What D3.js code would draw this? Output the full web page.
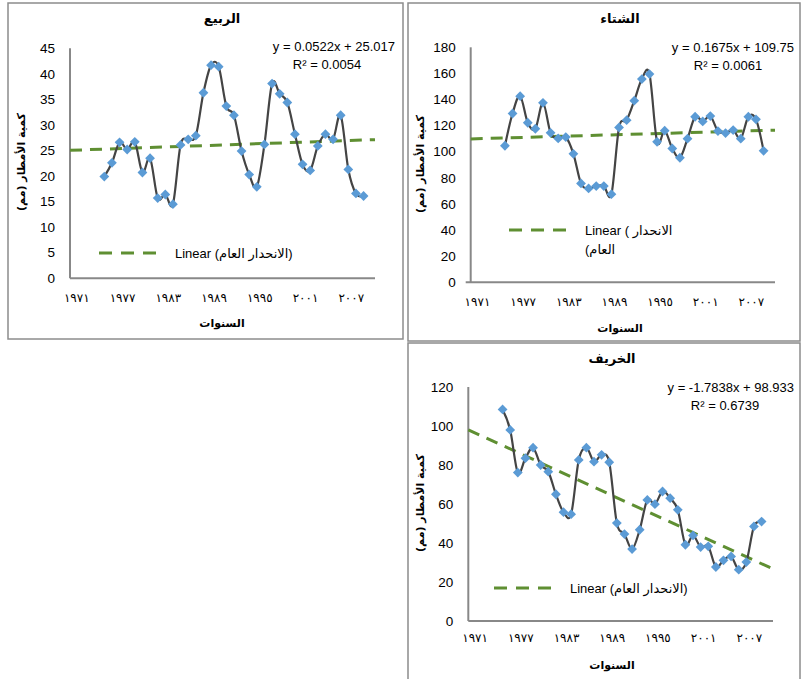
<!DOCTYPE html>
<html>
<head>
<meta charset="utf-8">
<script src="https://cdn.jsdelivr.net/npm/d3@7"></script>
<style>
  body { margin: 0; background: #fff; }
  svg { display: block; }
  .tick-num { font-family: "Liberation Sans", Arial, sans-serif; font-size: 13.5px; fill: #000; }
  .tick-year { font-family: "DejaVu Sans", sans-serif; font-size: 12px; fill: #000; letter-spacing: 2.5px; }
  .title { font-family: "DejaVu Sans", sans-serif; font-size: 13px; font-weight: bold; fill: #000; }
  .axis-label { font-family: "DejaVu Sans", sans-serif; font-size: 11px; font-weight: bold; fill: #000; }
  .eq { font-family: "Liberation Sans", Arial, sans-serif; font-size: 13px; fill: #000; }
  .legend { font-family: "Liberation Sans", "DejaVu Sans", sans-serif; font-size: 13px; fill: #000; }
</style>
</head>
<body>
<svg id="chart" width="801" height="679"></svg>
<script>
// categories
const years = [1975, 1976, 1977, 1978, 1979, 1980, 1981, 1982, 1983, 1984,
               1985, 1986, 1987, 1988, 1989, 1990, 1991, 1992, 1993, 1994,
               1995, 1996, 1997, 1998, 1999, 2000, 2001, 2002, 2003, 2004,
               2005, 2006, 2007, 2008, 2009];
const tickYears = [1971, 1977, 1983, 1989, 1995, 2001, 2007];
const tickYearLabels = ['١٩٧١', '١٩٧٧', '١٩٨٣', '١٩٨٩', '١٩٩٥', '٢٠٠١', '٢٠٠٧'];

// series (mm)
const springVals = [19.9, 22.6, 26.6, 25.2, 26.7, 20.7, 23.5, 15.7, 16.4, 14.5,
                    26.1, 27.2, 27.9, 36.3, 41.7, 41.4, 33.7, 31.9, 24.9, 20.3,
                    17.9, 26.2, 38.1, 36.1, 34.4, 28.2, 22.3, 21.1, 25.9, 28.2,
                    27.2, 31.9, 21.3, 16.6, 16.1];
const winterVals = [104.6, 129.3, 142.6, 122.2, 117.6, 137.5, 114.5, 110.2, 111.2, 98.4,
                    75.7, 71.9, 73.7, 73.7, 67.5, 118.6, 124.2, 139.1, 155.7, 159.5,
                    107.6, 116.1, 102.5, 95.4, 110, 126.8, 123.2, 127.3, 115.8, 114.3,
                    116.6, 110, 126.8, 124.8, 100.7];
const autumnVals = [108.5, 98, 76.1, 83.5, 88.9, 80, 76.6, 65, 55.8, 54.8,
                    82.6, 88.9, 81.7, 85.2, 81.4, 50.2, 44.6, 36.9, 46.8, 62.1,
                    59.9, 66.4, 63, 57, 39.1, 43.9, 37.9, 38.3, 27.7, 31.1,
                    33.1, 26.3, 30.2, 48.5, 51];

// trend lines [slope, intercept], x = year - 1970 (excel category index)
const springTrend = [0.0522, 25.017];
const winterTrend = [0.1675, 109.75];
const autumnTrend = [-1.7838, 98.933];

const springTicks = [0, 5, 10, 15, 20, 25, 30, 35, 40, 45];
const winterTicks = [0, 20, 40, 60, 80, 100, 120, 140, 160, 180];
const autumnTicks = [0, 20, 40, 60, 80, 100, 120];

const svg = d3.select('#chart');

function drawPanel(p) {
    const g = svg.append('g');

    // frame
    g.append('rect')
        .attr('x', p.box[0]).attr('y', p.box[1])
        .attr('width', p.box[2]).attr('height', p.box[3])
        .attr('fill', 'none')
        .attr('stroke', '#8c8c8c')
        .attr('stroke-width', 1.5);

    const x = d3.scaleLinear().domain([1970.5, 2010.5]).range([p.x0, p.x1]);
    const y = d3.scaleLinear().domain([0, p.ticks[p.ticks.length - 1]]).range([p.y0, p.y1]);

    // axes lines
    g.append('line')
        .attr('x1', p.x0).attr('x2', p.x0)
        .attr('y1', y.range()[0]).attr('y2', y.range()[1])
        .attr('stroke', '#888').attr('stroke-width', 2);
    g.append('line')
        .attr('x1', p.x0 - (p.tick0 || 0)).attr('x2', p.x1)
        .attr('y1', p.y0).attr('y2', p.y0)
        .attr('stroke', '#888').attr('stroke-width', 2);

    // y tick labels
    g.selectAll('.ty')
        .data(p.ticks)
        .enter()
        .append('text')
        .attr('class', 'tick-num')
        .attr('x', p.x0 - 15)
        .attr('y', d => y(d))
        .attr('dy', '0.35em')
        .attr('text-anchor', 'end')
        .text(d => d);

    // x tick labels
    g.selectAll('.tx')
        .data(tickYears)
        .enter()
        .append('text')
        .attr('class', 'tick-year')
        .attr('x', d => x(d) + 3)
        .attr('y', p.y0 + p.xlabOff)
        .attr('dy', '0.35em')
        .attr('text-anchor', 'middle')
        .attr('direction', 'ltr')
        .text((d, i) => tickYearLabels[i]);

    // trend line
    const tr = p.trend;
    g.append('line')
        .attr('x1', p.x0).attr('x2', p.x1)
        .attr('y1', y(tr[0] * (1970.5 - 1970) + tr[1]))
        .attr('y2', y(tr[0] * (2010.5 - 1970) + tr[1]))
        .attr('stroke', '#5f8f32')
        .attr('stroke-width', 3)
        .attr('stroke-dasharray', '12,8');

    // series line (smoothed like excel)
    const line = d3.line()
        .x((d, i) => x(years[i]))
        .y(d => y(d))
        .curve(d3.curveCardinal.tension(0));
    g.append('path')
        .datum(p.values)
        .attr('d', line)
        .attr('fill', 'none')
        .attr('stroke', '#444')
        .attr('stroke-width', 2.2);

    // markers
    const sym = d3.symbol().type(d3.symbolSquare).size(48);
    g.selectAll('.mk')
        .data(p.values)
        .enter()
        .append('path')
        .attr('d', sym)
        .attr('transform', (d, i) => `translate(${x(years[i])},${y(d)}) rotate(45)`)
        .attr('fill', '#5b9bd5');

    // title
    g.append('text')
        .attr('class', 'title')
        .attr('x', p.titleX).attr('y', p.titleY)
        .attr('dy', '0.35em')
        .attr('text-anchor', 'middle')
        .text(p.title);

    // axis titles
    g.append('text')
        .attr('class', 'axis-label')
        .attr('transform', `translate(${p.ylabX},${p.ylabY}) rotate(-90)`)
        .attr('dy', '0.35em')
        .attr('text-anchor', 'middle')
        .text('كمية الأمطار (مم)');
    g.append('text')
        .attr('class', 'axis-label')
        .attr('x', p.titleX).attr('y', p.xtitleY)
        .attr('dy', '0.35em')
        .attr('text-anchor', 'middle')
        .text('السنوات');

    // equation
    g.append('text')
        .attr('class', 'eq')
        .attr('x', p.eqX).attr('y', p.eqY)
        .attr('dy', '0.35em')
        .attr('text-anchor', 'end')
        .text(p.eq);
    g.append('text')
        .attr('class', 'eq')
        .attr('x', p.r2X).attr('y', p.eqY + 18.5)
        .attr('dy', '0.35em')
        .attr('text-anchor', 'middle')
        .text(p.r2);

    // legend
    g.append('line')
        .attr('x1', p.legX).attr('x2', p.legX + 57)
        .attr('y1', p.legY).attr('y2', p.legY)
        .attr('stroke', '#5f8f32')
        .attr('stroke-width', 3)
        .attr('stroke-dasharray', '13,9');
    p.legText.forEach((t, i) => {
        g.append('text')
            .attr('class', 'legend')
            .attr('x', p.legX + 76).attr('y', p.legY + i * 19)
            .attr('dy', '0.35em')
            .attr('direction', 'ltr')
            .text(t);
    });
}

drawPanel({
    title: 'الربيع', values: springVals, trend: springTrend, ticks: springTicks,
    box: [8, 3, 395, 336],
    x0: 70, x1: 375, y0: 278.3, y1: 48.3, xlabOff: 19,
    titleX: 222, titleY: 18, xtitleY: 323, ylabX: 21, ylabY: 162,
    eq: 'y = 0.0522x + 25.017', r2: 'R² = 0.0054', eqX: 395, eqY: 46, r2X: 327,
    legX: 99, legY: 253, legText: ['Linear (الانحدار العام)']
});

drawPanel({
    title: 'الشتاء', values: winterVals, trend: winterTrend, ticks: winterTicks,
    box: [408, 3, 392, 338],
    x0: 470.7, x1: 775, y0: 282.3, y1: 47.3, xlabOff: 19, tick0: 5,
    titleX: 620, titleY: 18, xtitleY: 328, ylabX: 420, ylabY: 164,
    eq: 'y = 0.1675x + 109.75', r2: 'R² = 0.0061', eqX: 794, eqY: 47, r2X: 728,
    legX: 509, legY: 230, legText: ['Linear ( الانحدار', '(العام']
});

drawPanel({
    title: 'الخريف', values: autumnVals, trend: autumnTrend, ticks: autumnTicks,
    box: [408, 343, 392, 345],
    x0: 468.3, x1: 773, y0: 621, y1: 387, xlabOff: 17,
    titleX: 612, titleY: 358, xtitleY: 665, ylabX: 420, ylabY: 503,
    eq: 'y = -1.7838x + 98.933', r2: 'R² = 0.6739', eqX: 794, eqY: 387, r2X: 725,
    legX: 494, legY: 588, legText: ['Linear (الانحدار العام)']
});
</script>
</body>
</html>
